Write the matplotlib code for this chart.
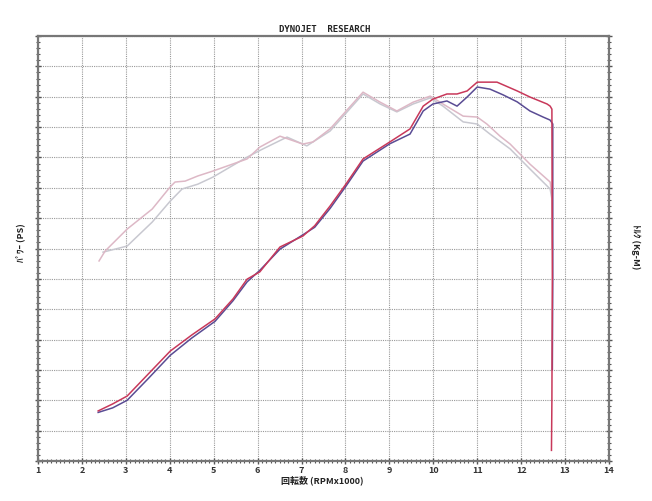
import matplotlib
matplotlib.use("Agg")
import matplotlib.pyplot as plt
from matplotlib.ticker import MultipleLocator

plt.rcParams['font.family'] = ['Noto Sans CJK JP', 'DejaVu Sans']

# ---- data (rpm x1000, value in chart units 0-140) ----
power_red_rpm = [2.37, 2.7, 3.03, 3.5, 4.01, 4.5, 5.03, 5.44, 5.76, 6.05, 6.51, 7.03, 7.3, 7.65, 8.01,
                 8.40, 9.01, 9.47, 9.77, 9.99, 10.31, 10.54, 10.77, 11.0, 11.45, 11.91, 12.20, 12.59,
                 12.66, 12.70, 12.71, 12.70, 12.69]
power_red_val = [16.5, 18.8, 21.4, 28.5, 36.2, 41.5, 46.8, 53.4, 59.9, 62.3, 70.5, 74.1, 77.5, 84.0, 91.2,
                 99.5, 105.1, 109.4, 116.9, 119.2, 120.9, 120.9, 121.9, 124.8, 124.8, 121.9, 119.9, 117.6,
                 116.9, 115.9, 60.0, 20.0, 3.5]

power_blue_rpm = [2.37, 2.7, 3.03, 3.5, 4.01, 4.5, 5.03, 5.44, 5.76, 6.05, 6.51, 7.03, 7.3, 7.65, 8.01,
                  8.40, 9.01, 9.47, 9.77, 9.99, 10.31, 10.54, 10.77, 11.0, 11.29, 11.59, 11.91, 12.20,
                  12.50, 12.66, 12.72, 12.72, 12.71]
power_blue_val = [16.0, 17.5, 20.0, 27.0, 34.8, 40.5, 46.0, 52.8, 59.0, 62.8, 69.8, 74.5, 77.0, 83.2, 90.5,
                  98.8, 104.5, 107.7, 115.3, 117.6, 118.6, 116.9, 119.9, 123.2, 122.5, 120.6, 118.3, 115.3,
                  113.3, 112.3, 111.0, 60.0, 30.0]

torque_pink_rpm = [2.39, 2.53, 3.03, 3.60, 4.01, 4.12, 4.35, 4.64, 4.98, 5.76, 6.05, 6.51, 7.03, 7.26,
                   7.65, 8.40, 8.79, 9.17, 9.54, 9.93, 10.22, 10.68, 11.0, 11.22, 11.52, 11.75, 12.20,
                   12.66, 12.70, 12.71]
torque_pink_val = [65.9, 69.2, 76.4, 83.0, 90.3, 91.9, 92.2, 93.9, 95.5, 99.5, 103.4, 107.0, 104.4, 105.1,
                   109.4, 121.5, 118.2, 115.3, 118.2, 120.2, 117.6, 113.6, 113.3, 111.0, 107.0, 104.4, 97.8,
                   91.9, 87.9, 70.0]

torque_gray_rpm = [2.48, 3.03, 3.60, 4.01, 4.28, 4.64, 4.98, 5.76, 6.12, 6.67, 7.12, 7.65, 8.40, 8.79,
                   9.17, 9.54, 9.93, 10.22, 10.68, 11.0, 11.29, 11.75, 12.20, 12.66, 12.70, 12.71]
torque_gray_val = [68.8, 70.8, 78.7, 85.6, 89.6, 91.2, 93.5, 100.1, 102.8, 106.7, 103.8, 108.7, 120.9, 117.6,
                   115.0, 117.6, 119.6, 116.9, 111.7, 111.0, 107.7, 102.8, 96.2, 89.6, 86.3, 70.0]

x_ticks = list(range(1, 15))

fig = plt.figure(figsize=(6.52, 5.02), dpi=100)
ax = fig.add_axes([38/652, 40/502, (609-38)/652, (462-37)/502])

ax.plot(torque_gray_rpm, torque_gray_val, color='#c8c8d0', lw=1.1)
ax.plot(torque_pink_rpm, torque_pink_val, color='#ddb8c6', lw=1.1)
ax.plot(power_blue_rpm, power_blue_val, color='#5a4c94', lw=1.1)
ax.plot(power_red_rpm, power_red_val, color='#c8385a', lw=1.1)

ax.set_xlim(1, 14)
ax.set_ylim(0, 140)
ax.xaxis.set_major_locator(MultipleLocator(1))
ax.xaxis.set_minor_locator(MultipleLocator(0.1))
ax.yaxis.set_major_locator(MultipleLocator(10))
ax.yaxis.set_minor_locator(MultipleLocator(2))
ax.set_xticks(x_ticks)
ax.set_xticklabels([str(t) for t in x_ticks], fontsize=6.5, fontweight='bold', color='#333333')
ax.tick_params(axis='y', which='both', labelleft=False, left=True, right=True, direction='inout',
               color='#555555')
ax.tick_params(axis='x', which='both', direction='inout', color='#555555', bottom=True, top=False, pad=0.5)
ax.tick_params(which='major', length=5, width=1)
ax.tick_params(which='minor', length=3, width=0.8)

ax.grid(True, which='major', color='#999999', linestyle=(0, (1, 1)), linewidth=0.8)
for s in ax.spines.values():
    s.set_color('#777777')
    s.set_linewidth(1.6)

fig.text(325/652, 1 - 30/502, 'DYNOJET  RESEARCH', ha='center', va='center', fontsize=6.5,
         fontweight='bold', family='DejaVu Sans Mono', color='#222222')
fig.text(322/652, 1 - 480/502, '回転数 (RPMx1000)', ha='center', va='center', fontsize=6.5,
         fontweight='bold', color='#222222')
fig.text(20/652, 1 - 243/502, 'ﾊﾟﾜｰ (PS)', ha='center', va='center', fontsize=6.5,
         fontweight='bold', rotation=90, color='#222222')
fig.text(636/652, 1 - 247/502, 'ﾄﾙｸ (Kg-M)', ha='center', va='center', fontsize=6.5,
         fontweight='bold', rotation=-90, color='#222222')

fig.savefig('out.png', dpi=100, facecolor='white')
